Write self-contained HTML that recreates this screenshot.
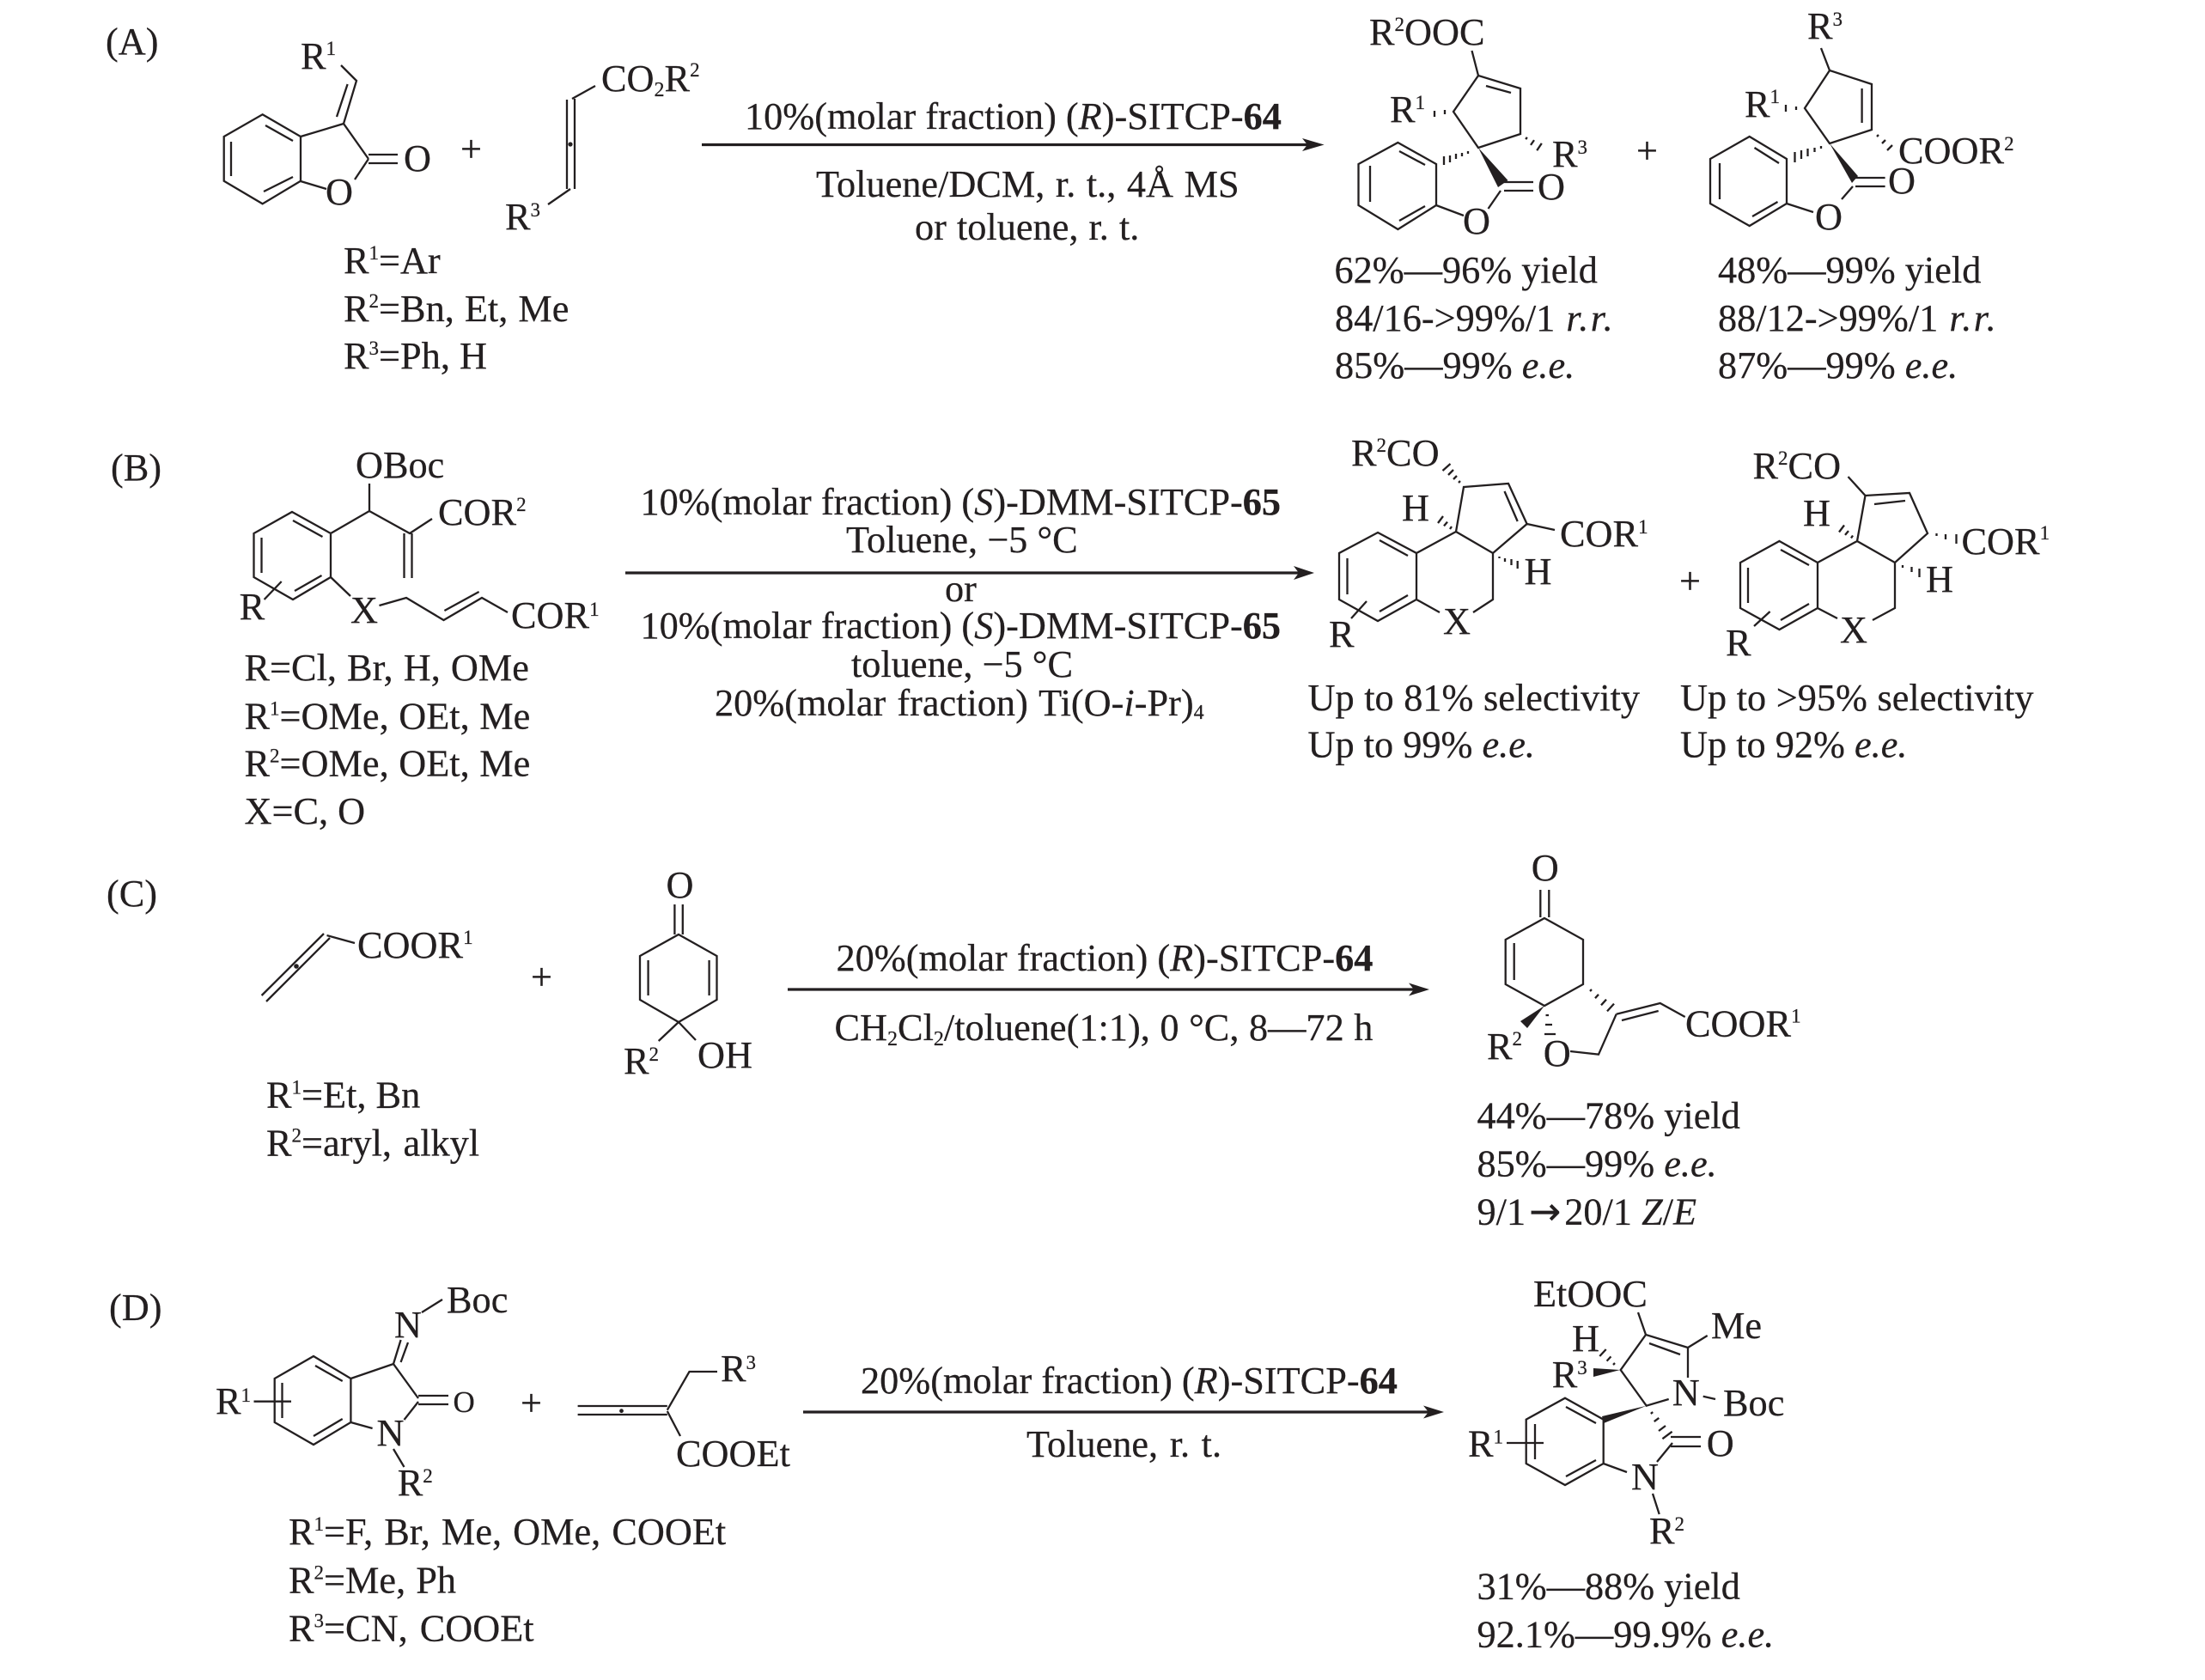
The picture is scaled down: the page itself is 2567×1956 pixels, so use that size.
<!DOCTYPE html>
<html>
<head>
<meta charset="utf-8">
<style>
html,body{margin:0;padding:0;background:#fff;}
svg{display:block;}
text{font-family:"Liberation Serif",serif;font-size:44.3px;fill:#231f20;stroke:#231f20;stroke-width:.25;white-space:pre;}
.s{font-size:23px;}
.u{font-size:24px;}
.i{font-style:italic;}
.b{font-weight:bold;}
.l{fill:none;stroke:#231f20;stroke-width:2.3;stroke-linejoin:miter;stroke-linecap:butt;}
.a{fill:none;stroke:#231f20;stroke-width:3.2;}
.f{fill:#231f20;stroke:none;}
</style>
</head>
<body>
<svg xmlns="http://www.w3.org/2000/svg" width="2567" height="1956" viewBox="0 0 2567 1956">
<rect width="2567" height="1956" fill="#fff"/>

<!-- A bonds -->
<path class="l" d="M305.6 133.3L350 159V210.7L305.6 237.3L260.7 210.7V159Z M309 146L341 164 M269 165V205 M307 223L341 206
M350 159L400 144L429 185 M400 144L415 94L397 76 M392 136L404.6 98 M429 180H463 M429 190H463 M429 185L413 209 M350 211L380 220
M660 116V220 M669 115V220 M693 100L666 115 M664 220L638 238
M1713.5 59L1721 88L1770 103V156L1721 172L1692 130L1721 88 M1730 100L1759 108
M1682 128V133 M1670 129V136
M1776.2 162.2L1777.8 159.8 M1782 168.9L1786 163.1 M1789.2 175.2L1794.8 166.9
M1627.4 166L1672 191V239L1627.4 267L1581.5 239V191Z M1629 176L1659 192 M1595 193V235 M1629 257L1659 240
M1681 182V192 M1688 181V189 M1695 179V185 M1702 178V182 M1709 176V179
M1751 212H1785 M1751 222H1785 M1747 222L1732.5 243 M1672 239L1704 251
M2120 56L2130 82L2179 98V151L2130 167L2101 126L2130 82 M2167.6 103V143
M2091 124V128 M2079 122V130
M2185 159L2187 157 M2191 167L2195 163 M2197 175L2203 169
M2036.7 159L2080 185V237L2036.7 263L1991 237V185Z M2042.5 172L2071 190 M2002 190V232 M2040 252L2069.5 235
M2089.5 177V189 M2097 175V185 M2104.5 173V182 M2112.5 172V177 M2120 170V173
M2160 207H2194.6 M2160 217H2194.6 M2157 217L2144 232 M2080 237L2111 247"/>
<polygon class="f" points="1721,172 1744,218 1755.5,210"/>
<polygon class="f" points="2130,167 2156,213 2163,205"/>
<circle class="f" cx="664" cy="168" r="2.6"/>

<!-- B bonds -->
<path class="l" d="M340 596L385 621V672L341 698L295.5 672V621Z M341 606L375.5 625 M304.5 626V667 M343 688L374.5 670 M307.6 698L327.7 677
M385 621L430 595V563 M430 595L477 621L503 604 M470.5 621V673 M479.5 621V673 M385 672L408 694
M441.5 705L473 696L516.5 722L561 696L591 713 M517.4 711L557.6 689
M1704 567L1756 563L1777.6 610L1738 644L1695 619Z M1751.5 572L1766.7 607 M1777.6 610L1810 617
M1698 562L1700 560 M1692 558L1696 554 M1686 553L1692 547 M1679.5 548L1688.5 540
M1688 616L1690 613 M1681 612.4L1685 607.6 M1674 609L1680 601
M1745.5 648V650 M1752 650V654 M1759.5 651V658 M1766.7 653V662
M1604 620L1649 644V698L1604 723L1559 698V644Z M1606 629L1639 647 M1568.5 650V692 M1606 712L1639 693
M1649 644L1695 619 M1738 644V698L1715 713 M1649 698L1676 713 M1573 720L1591 700
M2151.5 555L2171.5 577L2223 574L2244 621L2206 655L2162 630L2171.5 577 M2182 587L2218 583
M2254.5 621V624 M2265 622V628 M2277.5 622V633
M2155 626.5L2157 623.5 M2148 622.9L2152 618.1 M2141 619.5L2147 611.5
M2215 658V661 M2225.5 660V666 M2234.5 662V672
M2071.5 630L2116 655V708L2071.5 733L2026 708V655Z M2073 640L2106 658 M2035 661V702 M2073 722L2106 703
M2116 655L2162 630 M2206 655V708L2180 722 M2116 708L2139 720 M2042 729L2060.6 712"/>

<!-- C bonds -->
<path class="l" d="M304.6 1159L377 1087 M310 1166L384 1092 M380.5 1089L413 1098
M785.4 1053V1088 M794.8 1053V1088
M790 1088L834.5 1113V1164L790 1190L745 1164V1113Z M754.6 1118V1159 M825.6 1118V1159 M790 1190L766.7 1212 M790 1190L810 1211
M1793.3 1036V1068 M1803.3 1036V1068
M1798 1069L1843 1094V1146L1798 1171L1752.7 1146V1094Z M1762.7 1098V1141
M1799.5 1182H1803 M1799 1193H1807 M1798 1204H1811
M1851 1154L1853 1152 M1857 1162.2L1861 1157.8 M1864 1170.3L1870 1163.7 M1871 1177.4L1879 1168.6
M1881.7 1180.7L1932.7 1168L1961.7 1184 M1888 1188L1930.7 1177 M1881.7 1180.7L1861 1227.7L1828 1224"/>
<polygon class="f" points="1798,1171 1770,1189 1778,1197"/>
<circle class="f" cx="345" cy="1125" r="2.8"/>

<!-- D bonds -->
<path class="l" d="M491 1528L515 1513 M458 1588L466.6 1560 M466.6 1586L475 1563
M365 1579L408.4 1605V1656L365 1682L319.7 1656V1605Z M367 1590L398.7 1608 M365 1672L398.7 1652 M328.5 1610V1651
M408.4 1605L458 1588L487 1628 M487 1625H522 M487 1635H522 M487 1632L470.5 1653 M408.4 1656L433.6 1663 M458 1687L470.5 1708 M295.5 1631.7H339
M672.6 1637H776.8 M672.6 1647H776.8 M776.8 1641.7L802.5 1597H835 M776.8 1643L792 1672
M1907 1528L1916 1554L1965 1569V1604 M1916 1554L1886.7 1595L1916.7 1636.7L1942.7 1629 M1920 1564L1956 1577
M1965 1569L1987.7 1555 M1982.7 1625.7L1997 1629
M1878 1589L1880 1587 M1870.6 1584.6L1875.4 1579.4 M1862.3 1579L1869.7 1571
M1822 1627.7L1866.7 1652.7V1704L1822 1729L1776.7 1704V1652.7Z M1823 1638L1858 1657 M1823 1719L1858 1700 M1787 1658V1699
M1921.8 1645.9L1924.2 1644.1 M1925.7 1655.1L1931.3 1650.9 M1931 1666L1939 1660 M1935.4 1675.2L1946.6 1666.8
M1945 1673H1980 M1945 1684H1980 M1947 1680L1929 1702 M1866.7 1704L1894 1714 M1924 1739L1931.7 1763 M1754 1680H1797"/>
<polygon class="f" points="1886,1595 1855,1593 1855,1603"/>
<polygon class="f" points="1916.7,1636.7 1865,1649 1867,1657"/>
<circle class="f" cx="723.5" cy="1642.7" r="2.4"/>

<!-- arrows -->
<path class="a" d="M817 168.5H1525 M728 667H1515 M917 1152H1650 M935 1644H1667"/>
<polygon class="f" points="1541.6,168.5 1516,161 1522,168.5 1516,176"/>
<polygon class="f" points="1530,667 1506,659 1512,667 1506,675"/>
<polygon class="f" points="1664,1152 1640,1144.5 1646,1152 1640,1159.5"/>
<polygon class="f" points="1681,1644 1657,1636.5 1663,1644 1657,1651.5"/>

<!-- A text -->
<text x="123" y="63">(A)</text>
<text x="350" y="80">R<tspan class="s" dy="-16">1</tspan></text>
<text x="470" y="199">O</text>
<text x="379" y="238">O</text>
<text x="536" y="188">+</text>
<text x="700" y="106">CO<tspan class="u" dy="6">2</tspan><tspan dy="-6">R</tspan><tspan class="s" dy="-17">2</tspan></text>
<text x="588" y="267">R<tspan class="s" dy="-15">3</tspan></text>
<text x="400" y="318">R<tspan class="s" dy="-16">1</tspan><tspan dy="16">=Ar</tspan></text>
<text x="400" y="374" word-spacing="1">R<tspan class="s" dy="-16">2</tspan><tspan dy="16">=Bn, Et, Me</tspan></text>
<text x="400" y="429">R<tspan class="s" dy="-16">3</tspan><tspan dy="16">=Ph, H</tspan></text>
<text x="867" y="150">10%(molar fraction) (<tspan class="i">R</tspan>)-SITCP-<tspan class="b">64</tspan></text>
<text x="950" y="229" word-spacing="1.5">Toluene/DCM, r. t., 4Å MS</text>
<text x="1065" y="279" word-spacing="1">or toluene, r. t.</text>
<text x="1594" y="52">R<tspan class="s" dy="-16">2</tspan><tspan dy="16">OOC</tspan></text>
<text x="1618" y="142">R<tspan class="s" dy="-15">1</tspan></text>
<text x="1807" y="194">R<tspan class="s" dy="-15">3</tspan></text>
<text x="1790" y="232">O</text>
<text x="1703" y="272">O</text>
<text x="1905" y="190">+</text>
<text x="2104" y="45">R<tspan class="s" dy="-15">3</tspan></text>
<text x="2031" y="136">R<tspan class="s" dy="-16">1</tspan></text>
<text x="2210" y="190">COOR<tspan class="s" dy="-15">2</tspan></text>
<text x="2198" y="225">O</text>
<text x="2113" y="267">O</text>
<text x="1553.5" y="329">62%—96% yield</text>
<text x="1554" y="385" word-spacing="2">84/16-&gt;99%/1 <tspan class="i" letter-spacing="2.5">r.r.</tspan></text>
<text x="1554" y="440">85%—99% <tspan class="i">e.e.</tspan></text>
<text x="2000" y="329">48%—99% yield</text>
<text x="2000" y="385" word-spacing="2">88/12-&gt;99%/1 <tspan class="i" letter-spacing="2.5">r.r.</tspan></text>
<text x="2000" y="440">87%—99% <tspan class="i">e.e.</tspan></text>

<!-- B text -->
<text x="129" y="559">(B)</text>
<text x="414" y="556">OBoc</text>
<text x="510" y="611">COR<tspan class="s" dy="-16">2</tspan></text>
<text x="595" y="731">COR<tspan class="s" dy="-14">1</tspan></text>
<text x="408" y="725">X</text>
<text x="278.6" y="721">R</text>
<text x="284.5" y="792" word-spacing="1">R=Cl, Br, H, OMe</text>
<text x="284.5" y="848.5" word-spacing="0.5">R<tspan class="s" dy="-16">1</tspan><tspan dy="16">=OMe, OEt, Me</tspan></text>
<text x="284.5" y="903.5" word-spacing="0.5">R<tspan class="s" dy="-16">2</tspan><tspan dy="16">=OMe, OEt, Me</tspan></text>
<text x="284.5" y="959">X=C, O</text>
<text x="745.5" y="599">10%(molar fraction) (<tspan class="i">S</tspan>)-DMM-SITCP-<tspan class="b">65</tspan></text>
<text x="985" y="643">Toluene, −5 °C</text>
<text x="1100" y="700">or</text>
<text x="745.5" y="743">10%(molar fraction) (<tspan class="i">S</tspan>)-DMM-SITCP-<tspan class="b">65</tspan></text>
<text x="991" y="788">toluene, −5 °C</text>
<text x="832" y="833" word-spacing="2">20%(molar fraction) Ti(O-<tspan class="i">i</tspan>-Pr)<tspan class="u" dy="4">4</tspan></text>
<text x="1573" y="542">R<tspan class="s" dy="-16">2</tspan><tspan dy="16">CO</tspan></text>
<text x="1632" y="606">H</text>
<text x="1816" y="636">COR<tspan class="s" dy="-15">1</tspan></text>
<text x="1774.5" y="680">H</text>
<text x="1680" y="738">X</text>
<text x="1547" y="753">R</text>
<text x="1955" y="691">+</text>
<text x="2040.5" y="557">R<tspan class="s" dy="-16">2</tspan><tspan dy="16">CO</tspan></text>
<text x="2099" y="612">H</text>
<text x="2283.5" y="645">COR<tspan class="s" dy="-17">1</tspan></text>
<text x="2242" y="689">H</text>
<text x="2142" y="748">X</text>
<text x="2009" y="763">R</text>
<text x="1522.5" y="827" word-spacing="0.5">Up to 81% selectivity</text>
<text x="1522.5" y="881.5">Up to 99% <tspan class="i">e.e.</tspan></text>
<text x="1956" y="827" word-spacing="0.5">Up to &gt;95% selectivity</text>
<text x="1956" y="881.5">Up to 92% <tspan class="i">e.e.</tspan></text>

<!-- C text -->
<text x="124" y="1055">(C)</text>
<text x="416" y="1115">COOR<tspan class="s" dy="-16">1</tspan></text>
<text x="618" y="1152">+</text>
<text x="775.5" y="1045">O</text>
<text x="726" y="1250">R<tspan class="s" dy="-15">2</tspan></text>
<text x="812" y="1243">OH</text>
<text x="310" y="1289.5">R<tspan class="s" dy="-16">1</tspan><tspan dy="16">=Et, Bn</tspan></text>
<text x="310" y="1345.5" word-spacing="2.5">R<tspan class="s" dy="-16">2</tspan><tspan dy="16">=aryl, alkyl</tspan></text>
<text x="973.5" y="1130">20%(molar fraction) (<tspan class="i">R</tspan>)-SITCP-<tspan class="b">64</tspan></text>
<text x="971.5" y="1211" word-spacing="0.5">CH<tspan class="u" dy="6">2</tspan><tspan dy="-6">Cl</tspan><tspan class="u" dy="6">2</tspan><tspan dy="-6">/toluene(1:1), 0 °C, 8—72 h</tspan></text>
<text x="1782.7" y="1025">O</text>
<text x="1796.7" y="1241">O</text>
<text x="1731" y="1233">R<tspan class="s" dy="-16">2</tspan></text>
<text x="1962" y="1206.7">COOR<tspan class="s" dy="-16">1</tspan></text>
<text x="1719.5" y="1313.5">44%—78% yield</text>
<text x="1719.5" y="1369.5">85%—99% <tspan class="i">e.e.</tspan></text>
<text x="1719.5" y="1425.5">9/1<tspan style="font-family:'DejaVu Sans',sans-serif" dx="4">→</tspan><tspan dx="4">20/1 </tspan><tspan class="i">Z</tspan>/<tspan class="i">E</tspan></text>

<!-- D text -->
<text x="127" y="1537">(D)</text>
<text x="520" y="1528">Boc</text>
<text x="459" y="1557">N</text>
<text x="527.5" y="1644" style="font-size:35px">O</text>
<text x="438.5" y="1683">N</text>
<text x="462.7" y="1741">R<tspan class="s" dy="-15">2</tspan></text>
<text x="251" y="1646">R<tspan class="s" dy="-14">1</tspan></text>
<text x="606" y="1648">+</text>
<text x="839" y="1608">R<tspan class="s" dy="-14">3</tspan></text>
<text x="787" y="1707">COOEt</text>
<text x="336" y="1798" word-spacing="2">R<tspan class="s" dy="-16">1</tspan><tspan dy="16">=F, Br, Me, OMe, COOEt</tspan></text>
<text x="336" y="1854.5" word-spacing="1">R<tspan class="s" dy="-16">2</tspan><tspan dy="16">=Me, Ph</tspan></text>
<text x="336" y="1910.5" word-spacing="3">R<tspan class="s" dy="-16">3</tspan><tspan dy="16">=CN, COOEt</tspan></text>
<text x="1002" y="1622">20%(molar fraction) (<tspan class="i">R</tspan>)-SITCP-<tspan class="b">64</tspan></text>
<text x="1195" y="1696" word-spacing="2.5">Toluene, r. t.</text>
<text x="1785" y="1521">EtOOC</text>
<text x="1992" y="1558">Me</text>
<text x="1830" y="1573">H</text>
<text x="1806.7" y="1615">R<tspan class="s" dy="-15">3</tspan></text>
<text x="1946.7" y="1636">N</text>
<text x="2006" y="1648">Boc</text>
<text x="1709" y="1695.7">R<tspan class="s" dy="-15">1</tspan></text>
<text x="1986.7" y="1695">O</text>
<text x="1899" y="1734">N</text>
<text x="1920" y="1797">R<tspan class="s" dy="-15">2</tspan></text>
<text x="1719.5" y="1861.5">31%—88% yield</text>
<text x="1719.5" y="1917.5">92.1%—99.9% <tspan class="i">e.e.</tspan></text>
</svg>
</body>
</html>
